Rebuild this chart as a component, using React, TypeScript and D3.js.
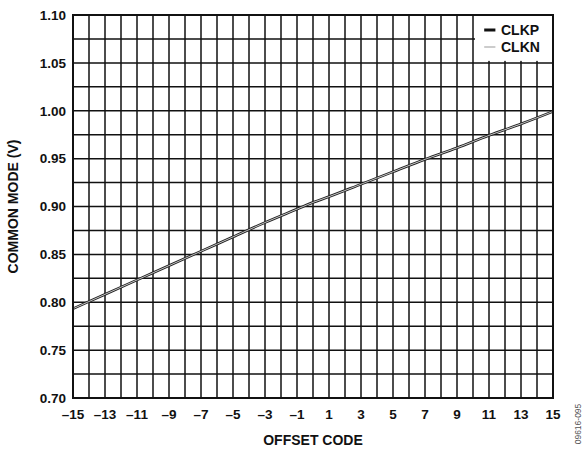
import React from 'react';
import * as d3 from 'd3';

const width = 588;
const height = 451;
const margin = { top: 15, right: 35, bottom: 53, left: 73 };

const codes = [-15, -13, -11, -9, -7, -5, -3, -1, 0, 1, 3, 5, 7, 9, 11, 13, 15];
const clkp = [0.794, 0.809, 0.824, 0.839, 0.854, 0.869, 0.884, 0.898, 0.905, 0.911, 0.924, 0.937, 0.95, 0.962, 0.975, 0.987, 1.0];
const clkn = [0.7925, 0.8075, 0.8225, 0.8375, 0.8525, 0.8675, 0.8825, 0.8965, 0.9035, 0.9095, 0.9225, 0.9355, 0.9485, 0.9605, 0.9735, 0.9855, 0.9985];
const xTicks = [-15, -13, -11, -9, -7, -5, -3, -1, 1, 3, 5, 7, 9, 11, 13, 15];
const yTicks = [0.7, 0.75, 0.8, 0.85, 0.9, 0.95, 1.0, 1.05, 1.1];

const font = '"Liberation Sans", Arial, sans-serif';

export default function App() {
  const gw = width - margin.left - margin.right;
  const gh = height - margin.top - margin.bottom;
  const x = d3.scaleLinear().domain([-15, 15]).range([0, gw]);
  const y = d3.scaleLinear().domain([0.7, 1.1]).range([gh, 0]);
  const line = d3
    .line<number>()
    .x((_, i) => x(codes[i]))
    .y((d) => y(d))
    .curve(d3.curveMonotoneX);

  const vGrid = d3.range(-15, 16, 1);
  const hGrid = d3.range(0, 17).map((i) => 0.7 + i * 0.025);
  const fmtX = (v: number) => (v < 0 ? '\u2013' + Math.abs(v) : String(v));

  return (
    <svg
      width={width}
      height={height}
      style={{ position: 'absolute', left: 0, top: 0, background: '#fff' }}
      fontFamily={font}
    >
      <g transform={`translate(${margin.left},${margin.top})`}>
        {vGrid.map((v) => (
          <line key={'v' + v} x1={x(v)} x2={x(v)} y1={0} y2={gh} stroke="#111" strokeWidth={1.5} />
        ))}
        {hGrid.map((v, i) => (
          <line key={'h' + i} x1={0} x2={gw} y1={y(v)} y2={y(v)} stroke="#111" strokeWidth={1.5} />
        ))}
        {/* legend box */}
        <rect x={x(10) + 2} y={0} width={gw - x(10) - 2} height={y(1.05) - 2} fill="#fff" />
        <line x1={x(10.7)} x2={x(11.4)} y1={15} y2={15} stroke="#111" strokeWidth={3} />
        <text x={x(11.75)} y={20} fontSize={14} fontWeight="bold" fill="#111">CLKP</text>
        <line x1={x(10.7)} x2={x(11.4)} y1={32} y2={32} stroke="#bbb" strokeWidth={1.5} />
        <text x={x(11.75)} y={37} fontSize={14} fontWeight="bold" fill="#111">CLKN</text>

        <path d={line(clkp) ?? ''} fill="none" stroke="#222" strokeWidth={1.3} />
        <path d={line(clkn) ?? ''} fill="none" stroke="#222" strokeWidth={1.3} />
        <path
          d={line(clkp.map((v, i) => (v + clkn[i]) / 2)) ?? ''}
          fill="none"
          stroke="#c8c8c8"
          strokeWidth={0.9}
        />

        <rect x={0} y={0} width={gw} height={gh} fill="none" stroke="#111" strokeWidth={2} />

        {yTicks.map((v) => (
          <text
            key={'yt' + v}
            x={-7}
            y={y(v)}
            dy="0.36em"
            textAnchor="end"
            fontSize={13.5}
            fontWeight="bold"
            fill="#111"
          >
            {v.toFixed(2)}
          </text>
        ))}
        {xTicks.map((v) => (
          <text
            key={'xt' + v}
            x={x(v)}
            y={gh + 21}
            textAnchor="middle"
            fontSize={13.5}
            fontWeight="bold"
            fill="#111"
          >
            {fmtX(v)}
          </text>
        ))}
        <text
          x={gw / 2}
          y={gh + 47}
          textAnchor="middle"
          fontSize={14}
          fontWeight="bold"
          fill="#111"
        >
          OFFSET CODE
        </text>
        <text
          transform={`translate(${-55},${gh / 2}) rotate(-90)`}
          textAnchor="middle"
          fontSize={14}
          fontWeight="bold"
          fill="#111"
        >
          COMMON MODE (V)
        </text>
      </g>
      <text
        transform={`translate(581,424) rotate(-90)`}
        textAnchor="middle"
        fontSize={8.5}
        fill="#555"
      >
        09616-095
      </text>
    </svg>
  );
}
